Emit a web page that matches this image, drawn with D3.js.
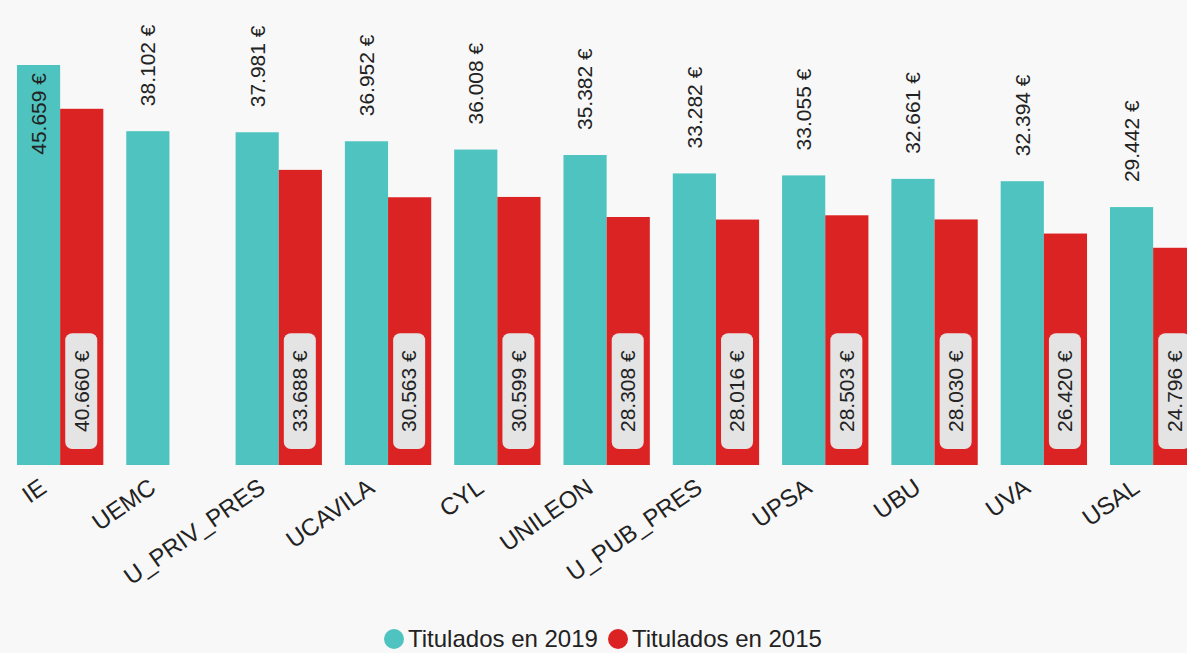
<!DOCTYPE html>
<html>
<head>
<meta charset="utf-8">
<script src="https://cdn.jsdelivr.net/npm/d3@7"></script>
<style>
  html, body { margin: 0; padding: 0; background: #f8f8f8; }
  svg { display: block; font-family: "Liberation Sans", Arial, sans-serif; }
</style>
</head>
<body>
<svg id="chart" width="1187" height="653"></svg>
<script>
// Universities / groups shown on the x axis
const categories = ["IE", "UEMC", "U_PRIV_PRES", "UCAVILA", "CYL", "UNILEON", "U_PUB_PRES", "UPSA", "UBU", "UVA", "USAL"];
// Average salary (€) of graduates, by graduation year
const values2019 = [45659, 38102, 37981, 36952, 36008, 35382, 33282, 33055, 32661, 32394, 29442];
const values2015 = [40660, null, 33688, 30563, 30599, 28308, 28016, 28503, 28030, 26420, 24796];
const seriesNames = ["Titulados en 2019", "Titulados en 2015"];
const seriesColors = ["#4ec3bf", "#dc2324"];

const locale = d3.formatLocale({ decimal: ",", thousands: ".", grouping: [3], currency: ["", " €"] });
const fmt = locale.format("$,.0f");

const svg = d3.select("#chart");
const baseY = 465;

const x = d3.scaleBand()
  .domain(categories)
  .range([5.5, 1207.8])
  .paddingInner(0.21)
  .paddingOuter(0.105);

const x1 = d3.scaleBand()
  .domain([0, 1])
  .range([0, x.bandwidth()]);

const y = d3.scaleLinear()
  .domain([0, 50000])
  .range([baseY, baseY - 50000 * 400 / 45659]);

const rows = categories.map((c, i) => ({ cat: c, vals: [values2019[i], values2015[i]] }));

const groups = svg.append("g").selectAll("g")
  .data(rows)
  .join("g")
  .attr("transform", d => `translate(${x(d.cat)},0)`);

// bars
groups.selectAll("rect")
  .data(d => d.vals.map((v, k) => ({ v, k })).filter(e => e.v != null))
  .join("rect")
  .attr("x", e => x1(e.k))
  .attr("width", x1.bandwidth())
  .attr("y", e => y(e.v))
  .attr("height", e => baseY - y(e.v))
  .attr("fill", e => seriesColors[e.k]);

const fontSize = 21;
const gap = 25;

// 2019 labels: above the bar, or inside near the top when there is no room
groups.each(function (d) {
  const g = d3.select(this);
  const v = d.vals[0];
  const cx = x1(0) + x1.bandwidth() / 2;
  const t = g.append("text")
    .attr("font-size", fontSize)
    .attr("fill", "#222")
    .attr("dy", "0.35em")
    .text(fmt(v));
  const len = t.node().getComputedTextLength();
  const top = y(v);
  if (top - gap - len < 0) {
    t.attr("text-anchor", "end")
      .attr("transform", `translate(${cx},${top + 8}) rotate(-90)`);
  } else {
    t.attr("text-anchor", "start")
      .attr("transform", `translate(${cx},${top - gap}) rotate(-90)`);
  }
});

// 2015 labels: inside the bar, at the bottom, on a rounded box
groups.each(function (d) {
  const v = d.vals[1];
  if (v == null) return;
  const g = d3.select(this);
  const cx = x1(1) + x1.bandwidth() / 2;
  const lg = g.append("g").attr("transform", `translate(${cx - 0.5},${baseY - 16}) rotate(-90)`);
  const box = lg.append("rect").attr("fill", "#e4e4e4").attr("rx", 7).attr("ry", 7);
  const t = lg.append("text")
    .attr("font-size", fontSize)
    .attr("fill", "#222")
    .attr("dy", "0.35em")
    .attr("x", 17)
    .text(fmt(v));
  const len = t.node().getComputedTextLength();
  box.attr("x", 0).attr("y", -16).attr("width", len + 34).attr("height", 32);
});

// x axis labels
svg.append("g").selectAll("text")
  .data(categories)
  .join("text")
  .attr("font-size", 24)
  .attr("fill", "#222")
  .attr("text-anchor", "end")
  .attr("transform", c => `translate(${x(c) + x.bandwidth() / 2 - 12},491) rotate(-35)`)
  .text(c => c);

// legend
const legend = svg.append("g");
const items = [{ cx: 394, tx: 408 }, { cx: 618, tx: 632 }];
items.forEach((it, k) => {
  legend.append("circle").attr("cx", it.cx).attr("cy", 639).attr("r", 10).attr("fill", seriesColors[k]);
  legend.append("text").attr("x", it.tx).attr("y", 647).attr("font-size", 24).attr("fill", "#222").text(seriesNames[k]);
});
</script>
</body>
</html>
